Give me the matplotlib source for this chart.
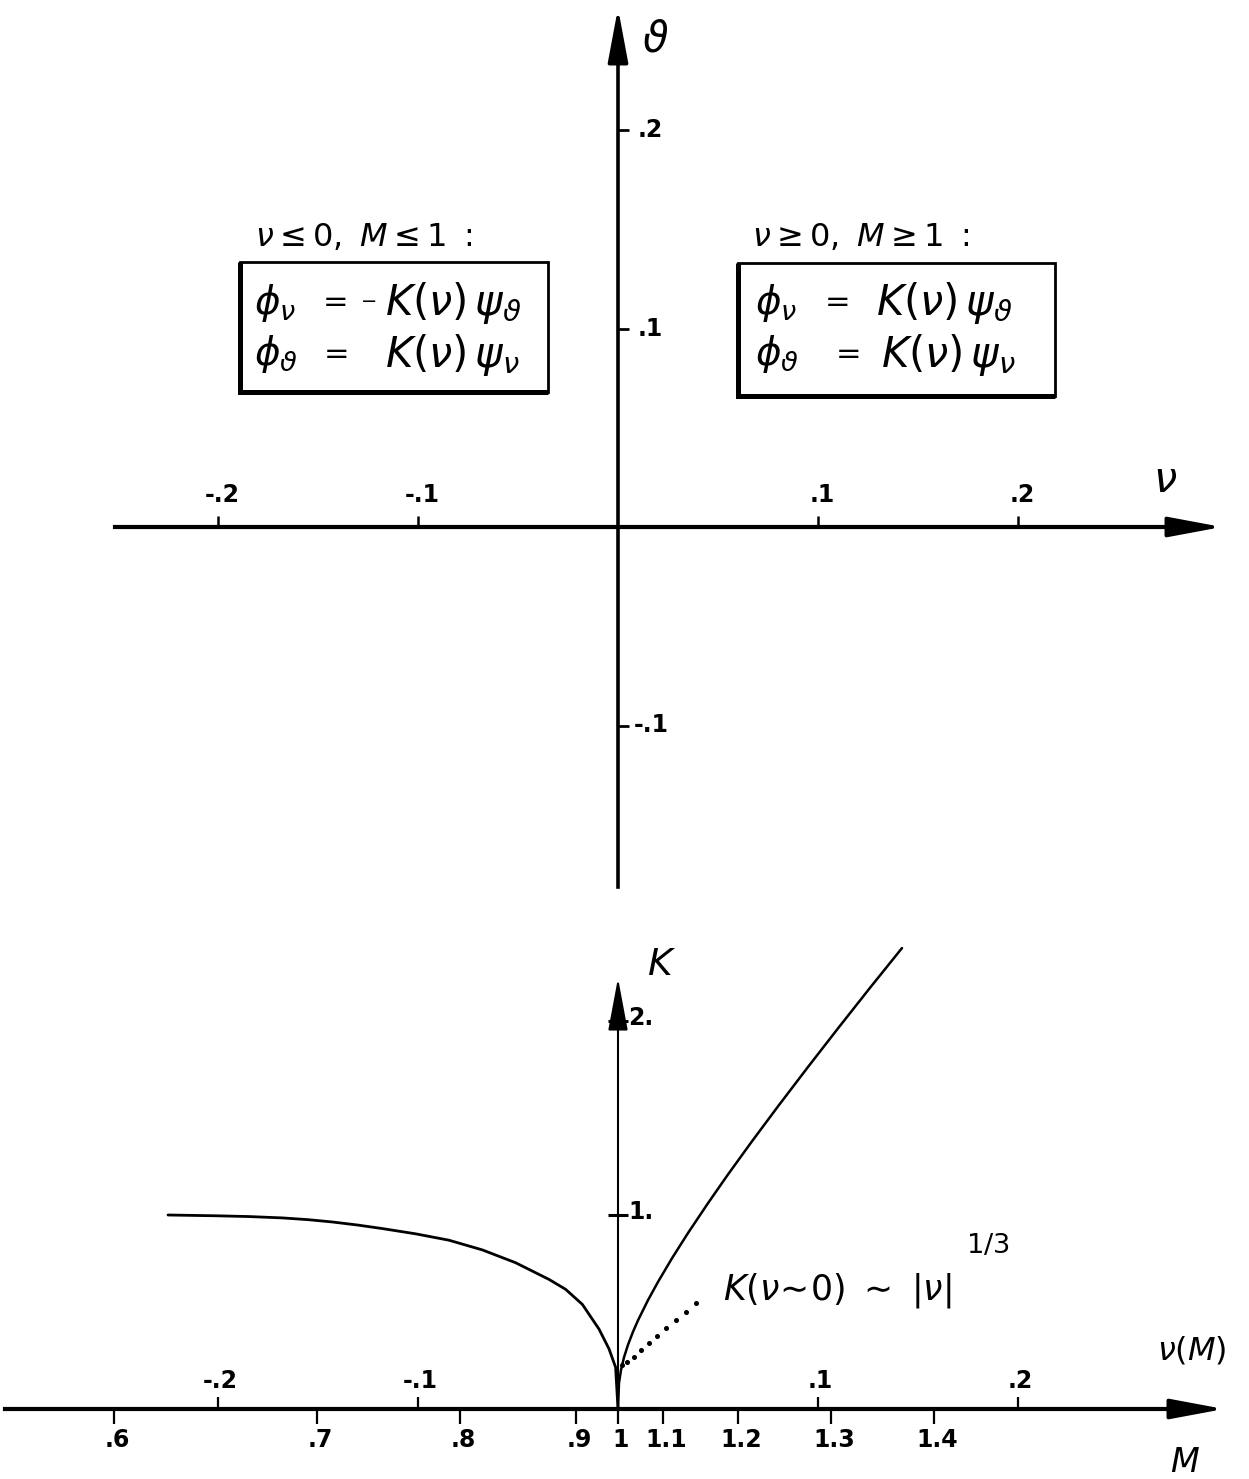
import matplotlib
matplotlib.use("Agg")
import matplotlib.pyplot as plt
from matplotlib.patches import Rectangle

plt.rcParams['mathtext.fontset'] = 'dejavusans'
plt.rcParams['font.family'] = ['DejaVu Sans']

# ---------------- data ----------------
# upper diagram ticks
nu_ticks_top = [-0.2, -0.1, 0.1, 0.2]
nu_ticklabels_top = ['-.2', '-.1', '.1', '.2']
theta_ticks = [0.2, 0.1, -0.1]
theta_ticklabels = ['.2', '.1', '-.1']

# lower diagram: K(nu) curve
nu_left = [-0.225, -0.2012, -0.1845, -0.1678, -0.155, -0.1428, -0.130, -0.1178,
           -0.1012, -0.0845, -0.0678, -0.0512, -0.0345, -0.0262, -0.0178,
           -0.0095, -0.0045, -0.0012, 0.0]
K_left = [1.000, 0.996, 0.992, 0.985, 0.976, 0.964, 0.948, 0.930,
          0.903, 0.870, 0.820, 0.754, 0.668, 0.617, 0.539,
          0.412, 0.310, 0.215, 0.0]
nu_right = [0.0, 0.0005, 0.0015, 0.003, 0.005, 0.0075, 0.010, 0.015, 0.020,
            0.027, 0.035, 0.045, 0.055, 0.067, 0.080, 0.095, 0.110, 0.126, 0.142]
K_right = [0.0, 0.134, 0.201, 0.266, 0.331, 0.398, 0.457, 0.561, 0.655,
           0.777, 0.907, 1.061, 1.209, 1.380, 1.560, 1.763, 1.962, 2.171, 2.376]
# asymptote K ~ |nu|^(1/3) (dotted)
nu_asym = [0.002, 0.0045, 0.008, 0.0115, 0.0155, 0.0195, 0.024, 0.029, 0.034, 0.039]
K_asym = [0.227, 0.242, 0.268, 0.304, 0.340, 0.376, 0.418, 0.459, 0.500, 0.546]

nu_ticks_bot = [-0.2, -0.1, 0.1, 0.2]
nu_ticklabels_bot = ['-.2', '-.1', '.1', '.2']
M_tick_nu = [-0.252, -0.1505, -0.079, -0.021, 0.0, 0.0225, 0.060, 0.1065, 0.158]
M_ticklabels = ['.6', '.7', '.8', '.9', '1', '1.1', '1.2', '1.3', '1.4']
K_ticks = [1.0, 2.0]
K_ticklabels = ['1.', '2.']

W, H = 1249, 1479
fig = plt.figure(figsize=(W / 100, H / 100), dpi=100)
fig.patch.set_facecolor('white')


def fx(x):
    return x / W


def fy(y):
    return 1 - y / H


# scales (px per unit)
SX = 2000.0
X0 = 618.0
xlim = (-X0 / SX, (W - X0) / SX)

# ---------------- upper diagram ----------------
TOP_H = 930
SY_T = 1985.0
Y0_T = 527.0
axt = fig.add_axes([0, fy(TOP_H), 1, TOP_H / H])
axt.set_xlim(*xlim)
axt.set_ylim(-(TOP_H - Y0_T) / SY_T, Y0_T / SY_T)
axt.patch.set_alpha(0)
for s in ['top', 'right']:
    axt.spines[s].set_visible(False)
axt.spines['bottom'].set_position(('data', 0))
axt.spines['left'].set_position(('data', 0))
axt.spines['bottom'].set_linewidth(3.0)
axt.spines['left'].set_linewidth(2.6)
axt.spines['bottom'].set_bounds((115 - X0) / SX, 0.285)
axt.spines['left'].set_bounds(-(887 - Y0_T) / SY_T, 0.245)
axt.set_xticks(nu_ticks_top)
axt.set_yticks(theta_ticks)
axt.set_xticklabels([])
axt.set_yticklabels([])
axt.tick_params(axis='x', direction='in', length=8, width=1.8)
axt.tick_params(axis='y', direction='in', length=8, width=2.0)

arrow_kw = dict(arrowstyle='-|>,head_length=1.5,head_width=0.28', color='black',
                lw=2.6, shrinkA=0, shrinkB=0, mutation_scale=22)
axt.annotate('', xy=((1222 - X0) / SX, 0), xytext=(0.27, 0), arrowprops=arrow_kw)
axt.annotate('', xy=(0, (Y0_T - 8) / SY_T), xytext=(0, 0.235), arrowprops=arrow_kw)

lbl = dict(fontsize=17, fontweight='bold', color='black')
for v, t in zip(nu_ticks_top, nu_ticklabels_top):
    axt.annotate(t, xy=(v, 0), xytext=(4, 20), textcoords='offset pixels',
                 ha='center', va='bottom', **lbl)
for v, t in zip(theta_ticks, theta_ticklabels):
    axt.annotate(t, xy=(0, v), xytext=(20 if t != '-.1' else 16, 0),
                 textcoords='offset pixels', ha='left', va='center', **lbl)

fig.text(fx(655), fy(40), r'$\vartheta$', fontsize=30, ha='center', va='center')
fig.text(fx(1165), fy(480), r'$\nu$', fontsize=30, ha='center', va='center')

# condition headers
fig.text(fx(255), fy(237), r'$\nu \leq 0,\ M \leq 1\ :$', fontsize=23,
         ha='left', va='center')
fig.text(fx(752), fy(237), r'$\nu \geq 0,\ M \geq 1\ :$', fontsize=23,
         ha='left', va='center')


# boxes
def box(x0, y0, x1, y1):
    fig.add_artist(Rectangle((fx(x0), fy(y1)), (x1 - x0) / W, (y1 - y0) / H,
                             transform=fig.transFigure, fill=False,
                             lw=2.0, ec='black'))
    # heavier left and bottom edges (shadow)
    fig.add_artist(plt.Line2D([fx(x0), fx(x0), fx(x1)],
                              [fy(y0), fy(y1), fy(y1)],
                              transform=fig.transFigure, lw=3.6, color='black',
                              solid_capstyle='butt', solid_joinstyle='miter'))


box(240, 262, 548, 392)
box(738, 263, 1055, 396)

lhs = dict(fontsize=28, va='center', ha='left')
rhs = dict(fontsize=30, va='center', ha='left')
eqs = dict(fontsize=22, va='center', ha='center')
# left box
fig.text(fx(254), fy(303), r'$\phi_\nu$', **lhs)
fig.text(fx(332), fy(301), r'$=$', **eqs)
fig.text(fx(368), fy(300), r'$-$', fontsize=14, va='center', ha='center')
fig.text(fx(385), fy(303), r'$K(\nu)\,\psi_\vartheta$', **rhs)
fig.text(fx(254), fy(354), r'$\phi_\vartheta$', **lhs)
fig.text(fx(333), fy(352), r'$=$', **eqs)
fig.text(fx(385), fy(355), r'$K(\nu)\,\psi_\nu$', **rhs)
# right box
fig.text(fx(755), fy(303), r'$\phi_\nu$', **lhs)
fig.text(fx(834), fy(301), r'$=$', **eqs)
fig.text(fx(876), fy(303), r'$K(\nu)\,\psi_\vartheta$', **rhs)
fig.text(fx(755), fy(354), r'$\phi_\vartheta$', **lhs)
fig.text(fx(845), fy(352), r'$=$', **eqs)
fig.text(fx(881), fy(355), r'$K(\nu)\,\psi_\nu$', **rhs)

# ---------------- lower diagram ----------------
SY_B = 194.0
Y0_B = 1409.0
axb = fig.add_axes([0, 0, 1, (H - TOP_H) / H])
axb.set_xlim(*xlim)
axb.set_ylim(-(H - Y0_B) / SY_B, (Y0_B - TOP_H) / SY_B)
axb.patch.set_alpha(0)
for s in ['top', 'right']:
    axb.spines[s].set_visible(False)
axb.spines['bottom'].set_position(('data', 0))
axb.spines['left'].set_position(('data', 0))
axb.spines['bottom'].set_linewidth(3.0)
axb.spines['left'].set_linewidth(1.5)
axb.spines['bottom'].set_bounds((5 - X0) / SX, 0.285)
axb.spines['left'].set_bounds(0, 2.1)
axb.set_xticks(nu_ticks_bot)
axb.set_xticks(M_tick_nu, minor=True)
axb.set_yticks(K_ticks)
axb.set_xticklabels([])
axb.set_yticklabels([])
axb.tick_params(axis='x', which='major', direction='in', length=9, width=1.6)
axb.tick_params(axis='x', which='minor', direction='out', length=11, width=1.6)
axb.tick_params(axis='y', direction='inout', length=14, width=2.2)

axb.annotate('', xy=((1224 - X0) / SX, 0), xytext=(0.27, 0), arrowprops=arrow_kw)
axb.annotate('', xy=(0, (Y0_B - 978) / SY_B), xytext=(0, 2.0),
             arrowprops=dict(arrow_kw, lw=1.5))

# curves
axb.plot(nu_left, K_left, color='black', lw=2.0, solid_capstyle='round',
         solid_joinstyle='round')
axb.plot(nu_right, K_right, color='black', lw=1.8, solid_capstyle='round',
         solid_joinstyle='round')
axb.plot(nu_asym, K_asym, linestyle='none', marker='o', markersize=2.6,
         color='black')

for v, t in zip(nu_ticks_bot, nu_ticklabels_bot):
    axb.annotate(t, xy=(v, 0), xytext=(2, 16), textcoords='offset pixels',
                 ha='center', va='bottom', **lbl)
for v, t in zip(M_tick_nu, M_ticklabels):
    axb.annotate(t, xy=(v, 0), xytext=(3, -19), textcoords='offset pixels',
                 ha='center', va='top', **lbl)
for v, t in zip(K_ticks, K_ticklabels):
    axb.annotate(t, xy=(0, v), xytext=(10, 3), textcoords='offset pixels',
                 ha='left', va='center', **lbl)

fig.text(fx(662), fy(965), r'$K$', fontsize=27, ha='center', va='center')
fig.text(fx(723), fy(1290), r'$K(\nu\!\sim\!0)\ \sim\ |\nu|$', fontsize=25,
         ha='left', va='center')
fig.text(fx(988), fy(1256), r'$^{1/3}$', fontsize=28, ha='center', va='center')
fig.text(fx(1192), fy(1350), r'$\nu(M)$', fontsize=23, ha='center', va='center')
fig.text(fx(1185), fy(1463), r'$M$', fontsize=24, ha='center', va='center')

fig.savefig('out.png', dpi=100, facecolor='white')
